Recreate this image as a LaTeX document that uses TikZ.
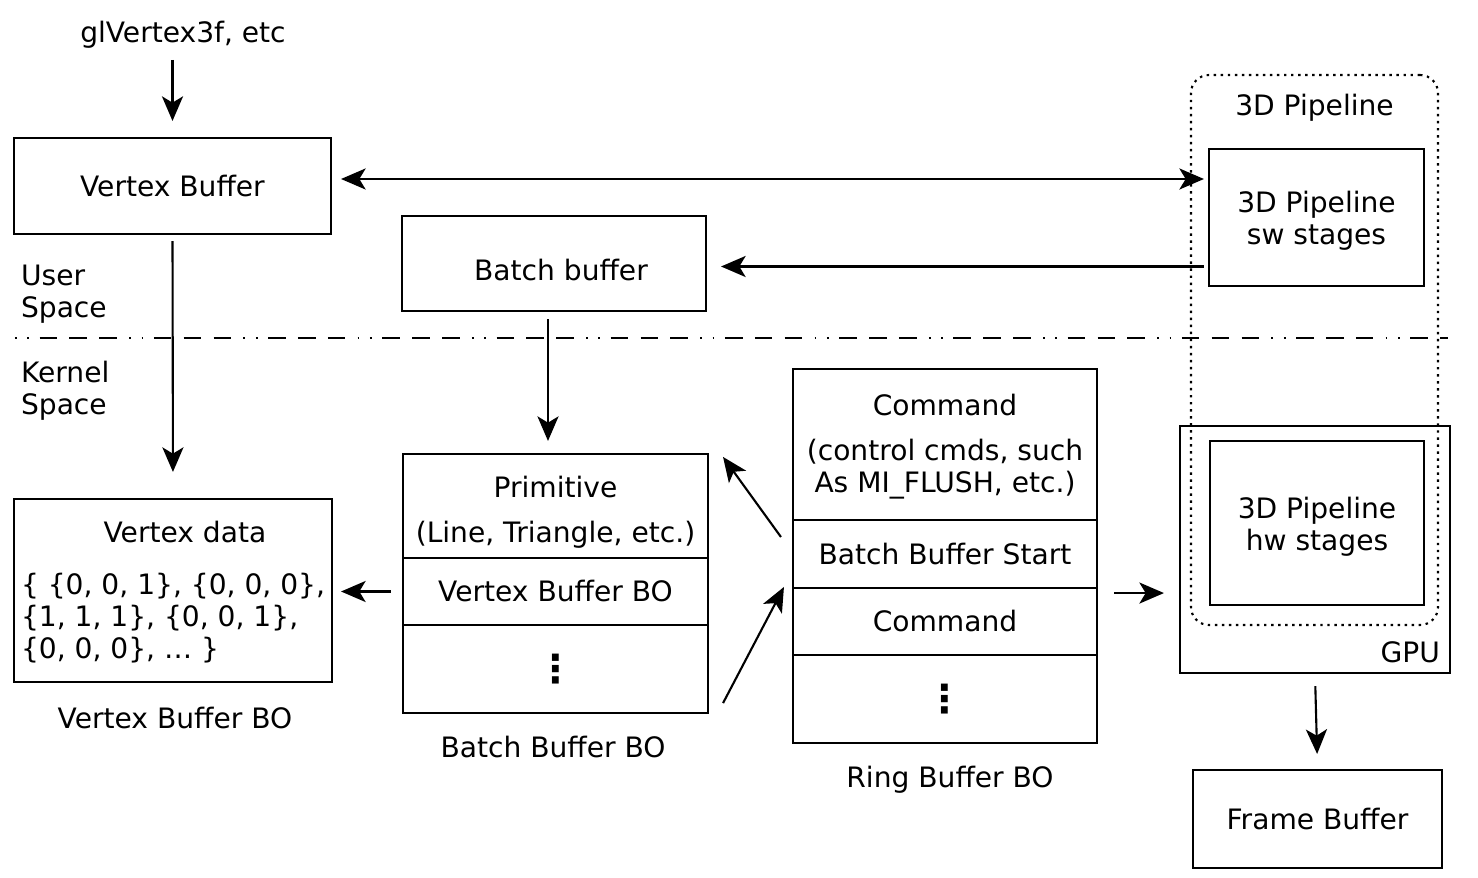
\documentclass[tikz,border=0pt]{standalone}
\usepackage{fontspec}
\setmainfont{DejaVu Sans}
\usetikzlibrary{arrows.meta}

\tikzset{
  box/.style={draw, align=center, inner sep=0pt},
  cell/.style={draw, align=center, inner sep=0pt},
  vdots/.style={font=\fontsize{11}{11}\selectfont\bfseries},
}

\begin{document}
\begin{tikzpicture}[line width=0.6pt, font=\fontsize{8}{9.1}\selectfont,
  >={Stealth[length=7pt, width=6pt, inset=1.8pt]}]
  \useasboundingbox (0,0) rectangle (14.78,-8.78);

  % User space side
  \node (gl) at (1.83,-0.35) {glVertex3f, etc};
  \node[box, minimum width=3.17cm, minimum height=0.96cm] (vbuf) at (1.725,-1.86) {Vertex Buffer};
  \node[box, minimum width=3.04cm, minimum height=0.95cm] (batch) at (5.54,-2.635) {\hspace{0.14cm}\rule{0pt}{10pt}Batch buffer};
  \node[anchor=west, align=left, inner sep=0pt] (user) at (0.20,-2.94) {User\\Space};
  \node[anchor=west, align=left, inner sep=0pt] (kernel) at (0.20,-3.91) {Kernel\\Space};

  % Draw the user / kernel border
  \coordinate (sepL) at (0.15,-3.38);
  \coordinate (sepR) at (14.48,-3.38);
  \draw[line width=0.5pt, dash pattern=on 0.5pt off 3pt on 0.5pt off 3pt on 5pt off 3.5pt on 5pt off 3.5pt on 5pt off 3.5pt] (sepL) -- (sepR);

  % 3D pipeline and GPU
  \node[box, minimum width=2.70cm, minimum height=2.47cm] (gpu) at (13.15,-5.495) {};
  \node[anchor=south east, inner sep=0pt] (gpulbl) at ([shift={(-0.10,0.10)}]gpu.south east) {GPU};
  \node[draw, dash pattern=on 0.7pt off 1.3pt, rounded corners=0.18cm, minimum width=2.47cm, minimum height=5.5cm] (pipe) at (13.145,-3.5) {};
  \node (pipelbl) at ([yshift=-0.34cm]pipe.north) {3D Pipeline};
  \node[box, minimum width=2.15cm, minimum height=1.37cm] (sw) at (13.165,-2.175) {\rule{0pt}{8pt}3D Pipeline\\sw stages};
  \node[box, minimum width=2.14cm, minimum height=1.64cm] (hw) at (13.17,-5.23) {\rule{0pt}{8pt}3D Pipeline\\hw stages};
  \node[box, minimum width=2.49cm, minimum height=0.98cm] (fb) at (13.175,-8.19) {Frame Buffer};

  % Vertex buffer BO
  \node[box, minimum width=3.18cm, minimum height=1.83cm] (vdata) at (1.73,-5.905) {};
  \node (vtitle) at (1.85,-5.32) {Vertex data};
  \node[anchor=west, align=left, inner sep=0pt] (vvals) at (0.20,-6.18)
    {\{ \{0, 0, 1\}, \{0, 0, 0\},\\\{1, 1, 1\}, \{0, 0, 1\},\\\{0, 0, 0\}, … \}};
  \node (vbolbl) at (1.75,-7.18) {Vertex Buffer BO};

  % Batch buffer BO
  \node[cell, minimum width=3.05cm, minimum height=1.04cm] (prim) at (5.555,-5.06) {\rule{0pt}{9.5pt}Primitive\\[3.7pt](Line, Triangle, etc.)};
  \node[cell, minimum width=3.05cm, minimum height=0.67cm] (vbbo) at (5.555,-5.915) {Vertex Buffer BO};
  \node[cell, minimum width=3.05cm, minimum height=0.88cm] (bdots) at (5.555,-6.69) {};
  \node[vdots] (bdotstxt) at (bdots) {⋮};
  \node (bbolbl) at (5.53,-7.47) {Batch Buffer BO};

  % Ring buffer BO
  \node[cell, minimum width=3.04cm, minimum height=1.51cm] (rcmd) at (9.45,-4.445) {\rule{0pt}{7.5pt}Command\\[3.7pt](control cmds, such\\As MI\_FLUSH, etc.)};
  \node[cell, minimum width=3.04cm, minimum height=0.68cm] (bbs) at (9.45,-5.54) {Batch Buffer Start};
  \node[cell, minimum width=3.04cm, minimum height=0.67cm] (rcmd2) at (9.45,-6.215) {Command};
  \node[cell, minimum width=3.04cm, minimum height=0.88cm] (rdots) at (9.45,-6.99) {};
  \node[vdots] (rdotstxt) at (rdots) {⋮};
  \node (rbolbl) at (9.50,-7.80) {Ring Buffer BO};

  % Arrows
  \draw[->] ([yshift=-0.25cm]gl.center -| vbuf.north) -- ([yshift=0.16cm]vbuf.north);
  \coordinate (dblL) at ([yshift=0.07cm]vbuf.east);
  \draw[<->, shorten <=0.09cm, shorten >=0.04cm] (dblL) -- (dblL -| sw.west);
  \coordinate (swout) at ([yshift=-0.03cm]batch.east -| sw.west);
  \draw[->, shorten <=0.04cm, shorten >=0.14cm] (swout) -- (swout -| batch.east);
  \draw[->, shorten <=0.06cm, shorten >=0.26cm] (vbuf.south) -- (vdata.north);
  \draw[->, shorten <=0.07cm, shorten >=0.12cm] ([xshift=-0.06cm]batch.south) -- ([xshift=-0.075cm]prim.north);
  \draw[->, shorten <=0.11cm, shorten >=0.08cm] (vbbo.west) -- (vbbo.west -| vdata.east);
  \draw[->] ([shift={(-0.11,0.17)}]bbs.west) -- ([shift={(0.14,-0.04)}]prim.north east);
  \draw[->] ([shift={(0.14,0.11)}]bdots.south east) -- ([xshift=-0.08cm]rcmd2.north west);
  \coordinate (ringout) at ([yshift=-0.04cm]bbs.south east);
  \draw[->, shorten <=0.16cm, shorten >=0.15cm] (ringout) -- (ringout -| gpu.west);
  \draw[->, shorten <=0.12cm, shorten >=0.15cm] (gpu.south) -- (fb.north);
\end{tikzpicture}
\end{document}
